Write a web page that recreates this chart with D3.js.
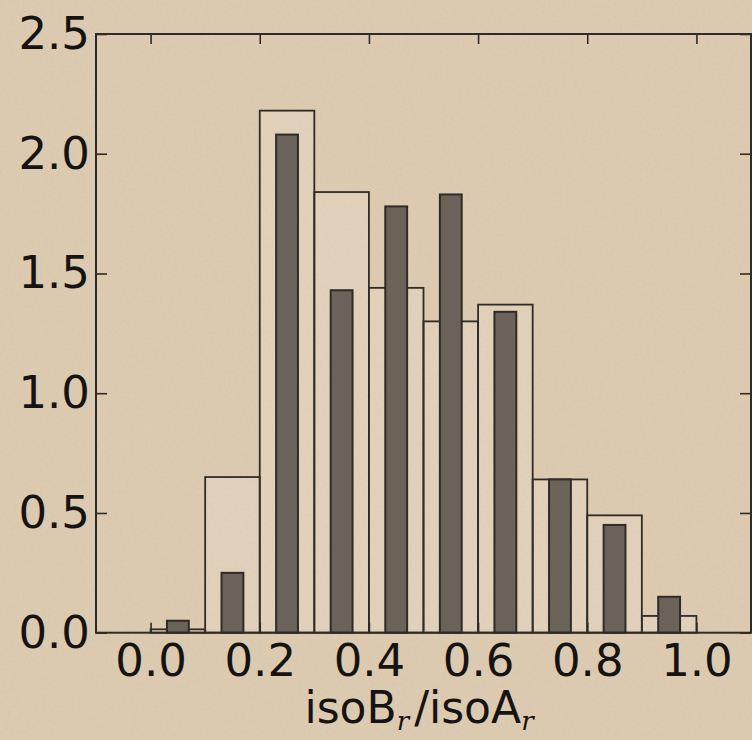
<!DOCTYPE html>
<html>
<head>
<meta charset="utf-8">
<script src="https://cdn.jsdelivr.net/npm/d3@7"></script>
<style>
  html, body { margin: 0; padding: 0; background: #dbc9ae; }
  svg { display: block; }
</style>
</head>
<body>
<div id="chart"></div>
<script>
// histogram bins (left edges), width 0.1
const binStarts = [0.0, 0.1, 0.2, 0.3, 0.4, 0.5, 0.6, 0.7, 0.8, 0.9];
const binWidth = 0.1;
// open (outline) histogram
const openValues = [0.014, 0.65, 2.18, 1.84, 1.44, 1.30, 1.37, 0.64, 0.49, 0.07];
// dark narrow histogram
const darkValues = [0.05, 0.25, 2.08, 1.43, 1.78, 1.83, 1.34, 0.64, 0.45, 0.15];
const xTicks = [0.0, 0.2, 0.4, 0.6, 0.8, 1.0];
const yTicks = [0.0, 0.5, 1.0, 1.5, 2.0, 2.5];

const W = 752, H = 740;
const plotLeft = 96, plotRight = 751, plotTop = 34, plotBottom = 632.7;
const ink = "#2f2b27";

const svg = d3.select("#chart").append("svg")
    .attr("width", W)
    .attr("height", H);

// paper texture
const defs = svg.append("defs");
const f = defs.append("filter").attr("id", "paper")
    .attr("x", 0).attr("y", 0).attr("width", "100%").attr("height", "100%");
f.append("feTurbulence")
    .attr("type", "fractalNoise")
    .attr("baseFrequency", 0.35)
    .attr("numOctaves", 3)
    .attr("seed", 4)
    .attr("result", "noise");
f.append("feColorMatrix")
    .attr("in", "noise")
    .attr("type", "matrix")
    .attr("values", "0 0 0 0 0.62  0 0 0 0 0.52  0 0 0 0 0.38  0 0 0 -1.2 0.7");

svg.append("rect").attr("width", W).attr("height", H).attr("fill", "#ddcbb1");
svg.append("rect").attr("width", W).attr("height", H)
    .attr("filter", "url(#paper)").attr("opacity", 0.5);

const x = d3.scaleLinear().domain([-0.1, 1.1]).range([plotLeft, plotRight]);
const y = d3.scaleLinear().domain([0, 2.5]).range([plotBottom, plotTop]);

const plot = svg.append("g");

// open bars
plot.selectAll("rect.open")
    .data(binStarts)
    .join("rect")
    .attr("class", "open")
    .attr("x", d => x(d))
    .attr("width", d => x(d + binWidth) - x(d))
    .attr("y", (d, i) => y(openValues[i]))
    .attr("height", (d, i) => y(0) - y(openValues[i]))
    .attr("fill", "#ffffff")
    .attr("fill-opacity", 0.12)
    .attr("stroke", ink)
    .attr("stroke-width", 1.8);

// dark bars, 40% of bin width, centred
const rw = 0.4;
plot.selectAll("rect.dark")
    .data(binStarts)
    .join("rect")
    .attr("class", "dark")
    .attr("x", d => x(d + binWidth * (1 - rw) / 2))
    .attr("width", d => x(d + binWidth * (1 + rw) / 2) - x(d + binWidth * (1 - rw) / 2))
    .attr("y", (d, i) => y(darkValues[i]))
    .attr("height", (d, i) => y(0) - y(darkValues[i]))
    .attr("fill", "#6b6359")
    .attr("stroke", ink)
    .attr("stroke-width", 2);

// axes (ticks pointing inward)
const fmt = d3.format(".1f");
const styleAxis = g => {
    g.select(".domain").remove();
    g.selectAll(".tick line").attr("stroke", ink).attr("stroke-width", 1.6);
    g.selectAll(".tick text")
        .attr("fill", "#161412")
        .style("font-family", "'DejaVu Sans', sans-serif")
        .style("font-size", "45px");
};

svg.append("g")
    .attr("transform", `translate(0,${plotBottom})`)
    .call(d3.axisBottom(x).tickValues(xTicks).tickFormat(fmt).tickSizeInner(-10).tickSizeOuter(0).tickPadding(11))
    .call(styleAxis);

svg.append("g")
    .attr("transform", `translate(0,${plotTop})`)
    .call(d3.axisTop(x).tickValues(xTicks).tickFormat("").tickSizeInner(-10).tickSizeOuter(0))
    .call(styleAxis);

svg.append("g")
    .attr("transform", `translate(${plotLeft},0)`)
    .call(d3.axisLeft(y).tickValues(yTicks).tickFormat(fmt).tickSizeInner(-11).tickSizeOuter(0).tickPadding(6))
    .call(styleAxis);

svg.append("g")
    .attr("transform", `translate(${plotRight},0)`)
    .call(d3.axisRight(y).tickValues(yTicks).tickFormat("").tickSizeInner(-11).tickSizeOuter(0))
    .call(styleAxis);

// frame
svg.append("rect")
    .attr("x", plotLeft).attr("y", plotTop)
    .attr("width", plotRight - plotLeft).attr("height", plotBottom - plotTop)
    .attr("fill", "none")
    .attr("stroke", ink)
    .attr("stroke-width", 2);

// x label
const lab = svg.append("text")
    .attr("x", 419)
    .attr("y", 723)
    .attr("text-anchor", "middle")
    .attr("fill", "#161412")
    .style("font-family", "'DejaVu Sans', sans-serif")
    .style("font-size", "44px");
lab.append("tspan").text("isoB");
lab.append("tspan").text("r")
    .attr("dy", 7)
    .style("font-family", "'DejaVu Serif', serif")
    .style("font-style", "italic")
    .style("font-size", "26px");
lab.append("tspan").text("/isoA").attr("dy", -7).attr("dx", 5);
lab.append("tspan").text("r")
    .attr("dy", 7)
    .style("font-family", "'DejaVu Serif', serif")
    .style("font-style", "italic")
    .style("font-size", "26px");
</script>
</body>
</html>
